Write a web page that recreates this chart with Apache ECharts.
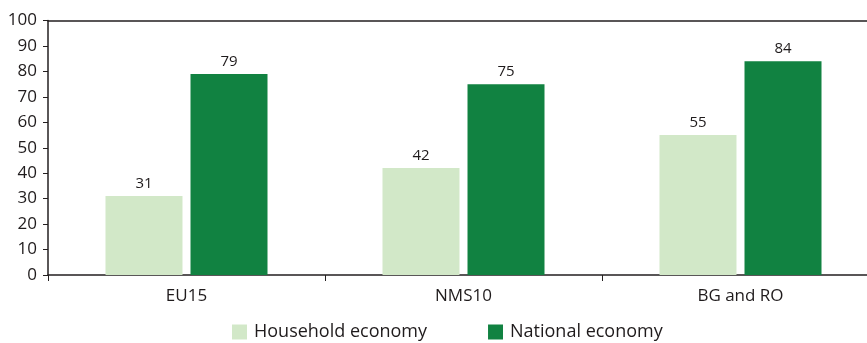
<!DOCTYPE html>
<html>
<head>
<meta charset="utf-8">
<script src="https://cdn.jsdelivr.net/npm/echarts@6/dist/echarts.min.js"></script>
<style>
  html, body { margin: 0; padding: 0; background: #fff; }
  #chart { width: 867px; height: 343px; }
</style>
</head>
<body>
<div id="chart"></div>
<script>
// Percentages by economy type, per country group
const categories = ['EU15', 'NMS10', 'BG and RO'];
const householdEconomy = [31, 42, 55];
const nationalEconomy = [79, 75, 84];
const yTicks = [0, 10, 20, 30, 40, 50, 60, 70, 80, 90, 100];

const FONT = '"Open Sans", "Noto Sans", sans-serif';
const TEXT = '#1f1b1c';

const chart = echarts.init(document.getElementById('chart'), null, { renderer: 'canvas' });

chart.setOption({
  animation: false,
  textStyle: { fontFamily: FONT, color: TEXT },
  grid: {
    left: 48, top: 20.5, width: 831, height: 254.5,
    containLabel: false,
    outerBoundsMode: 'none'
  },
  legend: {
    top: 323,
    left: 232,
    itemWidth: 15,
    itemHeight: 15,
    itemGap: 61,
    icon: 'rect',
    padding: 0,
    textStyle: { fontFamily: FONT, fontSize: 18, color: TEXT, padding: [0, 0, 0, 2] },
    data: ['Household economy', 'National economy']
  },
  xAxis: [
    {
      type: 'category',
      data: categories,
      axisLine: { lineStyle: { color: '#231f20', width: 1.5 } },
      axisTick: { show: true, alignWithLabel: false, length: 6, lineStyle: { color: '#231f20', width: 1 } },
      axisLabel: { fontFamily: FONT, fontSize: 17, color: TEXT, margin: 13 },
      splitLine: { show: false }
    },
    {
      type: 'category',
      data: categories,
      position: 'top',
      axisLine: { show: true, lineStyle: { color: '#231f20', width: 1.5 } },
      axisTick: { show: false },
      axisLabel: { show: false }
    }
  ],
  yAxis: {
    type: 'value',
    min: yTicks[0],
    max: yTicks[yTicks.length - 1],
    interval: 10,
    axisLine: { show: true, lineStyle: { color: '#231f20', width: 1.5 } },
    axisTick: { show: true, length: 5, lineStyle: { color: '#231f20', width: 1 } },
    axisLabel: { fontFamily: FONT, fontSize: 17, color: TEXT, margin: 11 },
    splitLine: { show: false }
  },
  series: [
    {
      name: 'Household economy',
      type: 'bar',
      data: householdEconomy,
      barWidth: 77,
      barGap: '10.4%',
      itemStyle: { color: '#d2e8c8' },
      label: { show: true, position: 'top', distance: 5, fontFamily: FONT, fontSize: 15, color: TEXT }
    },
    {
      name: 'National economy',
      type: 'bar',
      data: nationalEconomy,
      barWidth: 77,
      barGap: '10.4%',
      itemStyle: { color: '#118241' },
      label: { show: true, position: 'top', distance: 5, fontFamily: FONT, fontSize: 15, color: TEXT }
    }
  ]
});
</script>
</body>
</html>
